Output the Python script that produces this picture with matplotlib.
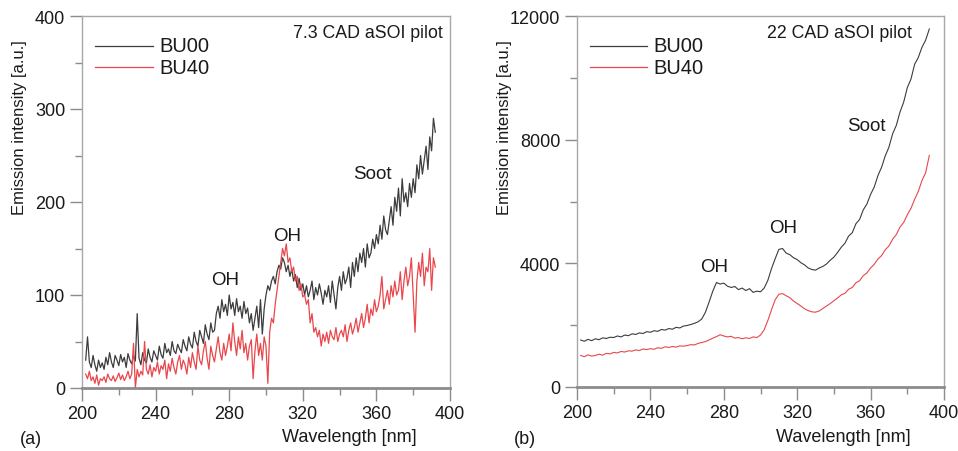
import numpy as np
import matplotlib
matplotlib.use("Agg")
import matplotlib.pyplot as plt

plt.rcParams['font.family'] = ['Liberation Sans', 'DejaVu Sans']

# ---------------- data: panel (a) 7.3 CAD, 1 nm grid -----------------
wl_a = np.arange(202, 393, 1)
bu00_a = [
    30, 55, 28, 22, 35, 25, 18, 30, 22, 27,
    20, 33, 25, 38, 28, 22, 35, 30, 24, 36,
    28, 33, 22, 37, 30, 26, 35, 29, 80, 32,
    25, 38, 30, 27, 42, 33, 28, 40, 35, 30,
    45, 36, 32, 48, 38, 42, 35, 50, 40, 37,
    47, 42, 38, 52, 45, 40, 55, 47, 43, 60,
    50, 45, 62, 55, 48, 68, 58, 52, 70, 60,
    62, 80, 88, 75, 95, 82, 90, 78, 100, 85,
    92, 78, 96, 82, 88, 75, 93, 80, 86, 70,
    80, 62, 75, 88, 65, 95, 58, 85, 100, 110,
    105, 115, 120, 112, 125, 132, 128, 140, 135, 125,
    132, 120, 128, 115, 122, 108, 118, 105, 112, 100,
    110, 98, 105, 115, 95, 108, 100, 112, 102, 90,
    105, 98, 110, 92, 115, 100, 85, 108, 120, 105,
    125, 112, 118, 130, 108, 135, 120, 140, 125, 145,
    135, 150, 130, 155, 140, 145, 160, 150, 165, 155,
    175, 160, 185, 170, 165, 180, 195, 175, 205, 190,
    215, 185, 225, 200, 210, 195, 220, 205, 225, 210,
    240, 225, 250, 230, 245, 260, 235, 270, 255, 290,
    275]
bu40_a = [
    15, 10, 18, 8, 12, 5, 14, 3, 10, 8,
    12, 6, 15, 10, 8, 13, 7, 11, 16, 9,
    14, 8, 12, 18, 10, 15, 48, 0, 20, 12,
    18, 14, 50, 20, 15, 25, 12, 22, 18, 28,
    15, 24, 20, 30, 10, 26, 18, 32, 22, 15,
    28, 35, 20, 30, 25, 15, 33, 22, 38, 28,
    20, 45, 30, 25, 40, 50, 32, 20, 45, 35,
    28, 42, 55, 38, 30, 48, 35, 45, 58, 40,
    70, 50, 35, 55, 42, 62, 38, 48, 30, 45,
    52, 10, 40, 58, 35, 48, 30, 55, 45, 5,
    60, 75, 70, 90, 105, 120, 135, 150, 142, 155,
    135, 140, 125, 130, 115, 120, 105, 112, 98, 100,
    90, 95, 70, 80, 60, 65, 55, 62, 45, 58,
    50, 60, 48, 62, 55, 52, 65, 50, 58, 62,
    55, 68, 50, 62, 70, 58, 65, 75, 60, 70,
    80, 65, 75, 90, 70, 85, 78, 95, 82, 88,
    100, 120, 85, 95, 105, 90, 110, 98, 115, 100,
    105, 125, 95, 115, 130, 110, 120, 140, 100, 60,
    115, 135, 120, 145, 110, 130, 125, 150, 105, 140,
    130]

# ---------------- data: panel (b) 22 CAD, 2 nm grid -----------------
wl_b = np.arange(202, 393, 2)
bu00_b = [
    1520, 1480, 1540, 1500, 1560, 1530, 1590, 1570, 1610, 1600,
    1650, 1620, 1680, 1660, 1720, 1700, 1750, 1730, 1790, 1770,
    1820, 1800, 1860, 1840, 1890, 1870, 1930, 1910, 1970, 1990,
    2020, 2060, 2110, 2200, 2420, 2750, 3100, 3380, 3330, 3360,
    3260, 3220, 3250, 3150, 3200, 3120, 3180, 3060, 3100, 3080,
    3200, 3450, 3830, 4150, 4450, 4480, 4330, 4280, 4180, 4120,
    4020, 3950, 3850, 3800, 3780, 3850, 3900, 3980, 4100, 4200,
    4350, 4520, 4650, 4880, 4990, 5280, 5420, 5730, 5920, 6230,
    6470, 6840, 7110, 7480, 7760, 8190, 8460, 8890, 9210, 9680,
    9960, 10440, 10660, 10990, 11220, 11580]
bu40_b = [
    1020, 980, 1040, 1000, 1020, 1060, 1030, 1090, 1070, 1120,
    1100, 1150, 1130, 1170, 1160, 1200, 1180, 1230, 1210, 1240,
    1220, 1270, 1250, 1300, 1280, 1310, 1290, 1330, 1320, 1340,
    1370, 1360, 1410, 1440, 1470, 1520, 1580, 1630, 1690, 1650,
    1620, 1640, 1580, 1600, 1560, 1590, 1570, 1620, 1600, 1680,
    1850, 2150, 2500, 2820, 3000, 3020, 2950, 2890, 2780, 2700,
    2620, 2530, 2470, 2430, 2420, 2460, 2540, 2620, 2700, 2790,
    2880, 2980, 3030, 3160, 3220, 3370, 3440, 3600, 3690, 3850,
    3970, 4140, 4250, 4440, 4560, 4780, 4930, 5170, 5320, 5570,
    5780, 6070, 6330, 6680, 6930, 7490]

series_names = ["BU00", "BU40"]
panel_titles = ["7.3 CAD aSOI pilot", "22 CAD aSOI pilot"]
panel_tags = ["(a)", "(b)"]
x_ticks = [200, 240, 280, 320, 360, 400]
y_ticks_a = [0, 100, 200, 300, 400]
y_ticks_b = [0, 4000, 8000, 12000]
annot_a = [("OH", 278, 117), ("OH", 311.5, 164), ("Soot", 358, 231)]
annot_b = [("OH", 274.5, 3900), ("OH", 312.5, 5150), ("Soot", 357.5, 8450)]

W, H = 958, 452
fig = plt.figure(figsize=(W / 100, H / 100), dpi=100)

BLACK = '#3c3c3c'
RED = '#e8474c'
SPINE = '#a8a8a8'
TXT = '#1a1a1a'


def make_panel(left_px, right_px, top_px, bottom_px, wl, s0, s1, yticks, ymax,
               title, annots, tag, ylabel_x, xlabel_cx, tag_x, leg_x0, leg_x1, leg_tx,
               title_x, lw):
    ax = fig.add_axes([left_px / W, 1 - bottom_px / H,
                       (right_px - left_px) / W, (bottom_px - top_px) / H])
    ax.plot(wl, s0, color=BLACK, lw=lw)
    ax.plot(wl, s1, color=RED, lw=lw)
    ax.set_xlim(200, 400)
    ax.set_ylim(0, ymax)
    ax.set_xticks(x_ticks)
    ax.set_xticks([220, 260, 300, 340, 380], minor=True)
    ax.set_yticks(yticks)
    minor_y = [(yticks[i] + yticks[i + 1]) / 2 for i in range(len(yticks) - 1)]
    ax.set_yticks(minor_y, minor=True)
    for sp in ['left', 'right', 'top']:
        ax.spines[sp].set_color(SPINE)
        ax.spines[sp].set_linewidth(1.0)
    ax.spines['bottom'].set_color('#8c8c8c')
    ax.spines['bottom'].set_linewidth(2.0)
    ax.tick_params(axis='both', which='major', direction='out', length=9,
                   width=1.0, color='#8c8c8c', labelsize=13, pad=3,
                   labelcolor=TXT)
    ax.tick_params(axis='both', which='minor', direction='out', length=5,
                   width=1.0, color='#8c8c8c')
    ax.set_xticklabels([str(v) for v in x_ticks])
    ax.set_yticklabels([str(v) for v in yticks])
    for (t, xx, yy) in annots:
        ax.text(xx, yy, t, ha='center', va='center', fontsize=13.5, color=TXT)
    fig.text(title_x / W, 1 - 33 / H, title, ha='right', va='center',
             fontsize=12.8, color=TXT)
    for i, (name, col) in enumerate(zip(series_names, [BLACK, RED])):
        yp = 47 + i * 21
        fig.add_artist(plt.Line2D([leg_x0 / W, leg_x1 / W], [1 - yp / H, 1 - yp / H],
                                  color=col, lw=0.9))
        fig.text(leg_tx / W, 1 - yp / H, name, ha='left', va='center',
                 fontsize=14.5, color=TXT)
    fig.text(ylabel_x / W, 1 - 128 / H, "Emission intensity [a.u.]", rotation=90,
             ha='center', va='center', fontsize=12, color=TXT)
    fig.text(xlabel_cx / W, 1 - 438 / H, "Wavelength [nm]", ha='center', va='center',
             fontsize=13, color=TXT)
    fig.text(tag_x / W, 1 - 440 / H, tag, ha='left', va='center', fontsize=13,
             color=TXT)
    return ax


make_panel(82, 450, 17, 389, wl_a, bu00_a, bu40_a, y_ticks_a, 400,
           panel_titles[0], annot_a, panel_tags[0], 20, 349, 20, 95, 153, 159, 443, 0.9)
make_panel(577, 944, 17, 388, wl_b, bu00_b, bu40_b, y_ticks_b, 12000,
           panel_titles[1], annot_b, panel_tags[1], 505, 843, 514, 590, 647, 653, 912, 0.8)

fig.savefig("out.png", dpi=100)
